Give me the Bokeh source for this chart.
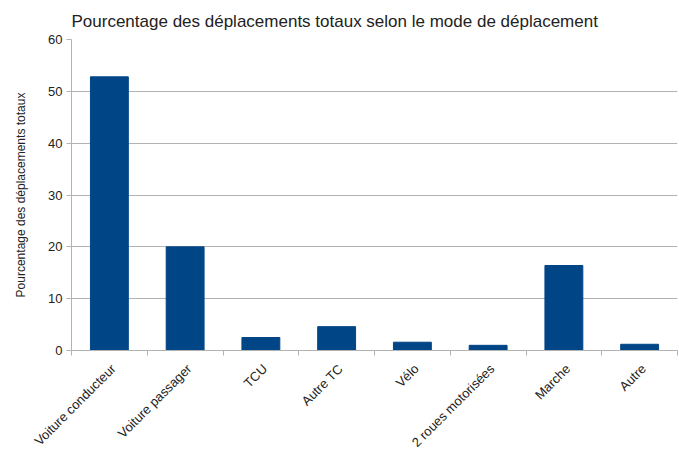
from bokeh.plotting import figure
from bokeh.models import ColumnDataSource, FixedTicker, Range1d, Label
from bokeh.embed import file_html
from bokeh.resources import INLINE
import math

categories = ["Voiture conducteur", "Voiture passager", "TCU", "Autre TC", "Vélo",
              "2 roues motorisées", "Marche", "Autre"]
values = [52.8, 20.0, 2.5, 4.6, 1.6, 1.0, 16.4, 1.2]
y_ticks = [0, 10, 20, 30, 40, 50, 60]

# layout constants (pixels)
W = 679
LEFT, RIGHT = 71, 2
BOTTOM_MAIN = 8
H_MAIN = 350 + BOTTOM_MAIN   # main chart height (frame bottom at 350)
H_LAB = 449 - H_MAIN         # strip holding the rotated category labels
LABEL_DROP = 16              # distance of label anchor below the x axis
LABEL_SHIFT = 4

n = len(categories)
centers = [i + 0.5 for i in range(n)]
bounds = list(range(n + 1))
unit = (W - LEFT - RIGHT) / n

src = ColumnDataSource(dict(x=centers, top=values, cat=categories))

FONT = "Liberation Sans"
TXT = "#222222"
GRID = "#b3b3b3"

p = figure(width=W, height=H_MAIN, output_backend="svg", toolbar_location=None,
           x_range=Range1d(0, n), y_range=Range1d(0, 60),
           title="Pourcentage des déplacements totaux selon le mode de déplacement",
           min_border_left=LEFT, min_border_right=RIGHT, min_border_top=8,
           min_border_bottom=BOTTOM_MAIN)

p.vbar(x="x", top="top", width=0.5, source=src, fill_color="#004586", line_color="#004586")

p.title.text_font = FONT
p.title.text_font_size = "17px"
p.title.text_font_style = "normal"
p.title.text_color = TXT
p.title.align = "left"
p.title.standoff = 18

p.outline_line_color = None
p.xgrid.grid_line_color = None
p.ygrid.grid_line_color = GRID
p.ygrid.grid_line_width = 1

p.yaxis.ticker = FixedTicker(ticks=y_ticks)
p.yaxis.axis_label = "Pourcentage des déplacements totaux"
p.yaxis.axis_label_text_font = FONT
p.yaxis.axis_label_text_font_size = "12px"
p.yaxis.axis_label_text_font_style = "normal"
p.yaxis.axis_label_text_color = TXT
p.yaxis.axis_label_standoff = 17
p.yaxis.major_label_text_font = FONT
p.yaxis.major_label_text_font_size = "13px"
p.yaxis.major_label_text_color = TXT
p.yaxis.major_label_standoff = 4
p.yaxis.axis_line_color = GRID
p.yaxis.major_tick_line_color = GRID
p.yaxis.major_tick_in = 0
p.yaxis.major_tick_out = 5
p.yaxis.minor_tick_line_color = None

p.xaxis.ticker = FixedTicker(ticks=centers, minor_ticks=bounds)
p.xaxis.major_label_overrides = {c: "" for c in centers}
p.xaxis.major_label_text_font_size = "0px"
p.xaxis.major_label_standoff = 0
p.xaxis.major_tick_line_color = None
p.xaxis.major_tick_in = 0
p.xaxis.major_tick_out = 0
p.xaxis.minor_tick_line_color = GRID
p.xaxis.minor_tick_in = 0
p.xaxis.minor_tick_out = 5
p.xaxis.axis_line_color = GRID

# label strip (separate root, so its frame spans the full width):
# same horizontal scale as the main frame
lab = figure(width=W, height=H_LAB, output_backend="svg", toolbar_location=None,
             x_range=Range1d(-LEFT / unit, n + RIGHT / unit), y_range=Range1d(0, H_LAB),
             x_axis_type=None, y_axis_type=None, min_border=0)
lab.outline_line_color = None
lab.xgrid.grid_line_color = None
lab.ygrid.grid_line_color = None
for xc, cat in zip(centers, categories):
    lab.add_layout(Label(x=xc, y=H_LAB + BOTTOM_MAIN - LABEL_DROP, text=cat,
                         angle=math.pi / 4, x_offset=LABEL_SHIFT,
                         text_align="right", text_baseline="middle",
                         text_font=FONT, text_font_size="13px", text_color=TXT))

open("out.html", "w").write(file_html([p, lab], INLINE))
